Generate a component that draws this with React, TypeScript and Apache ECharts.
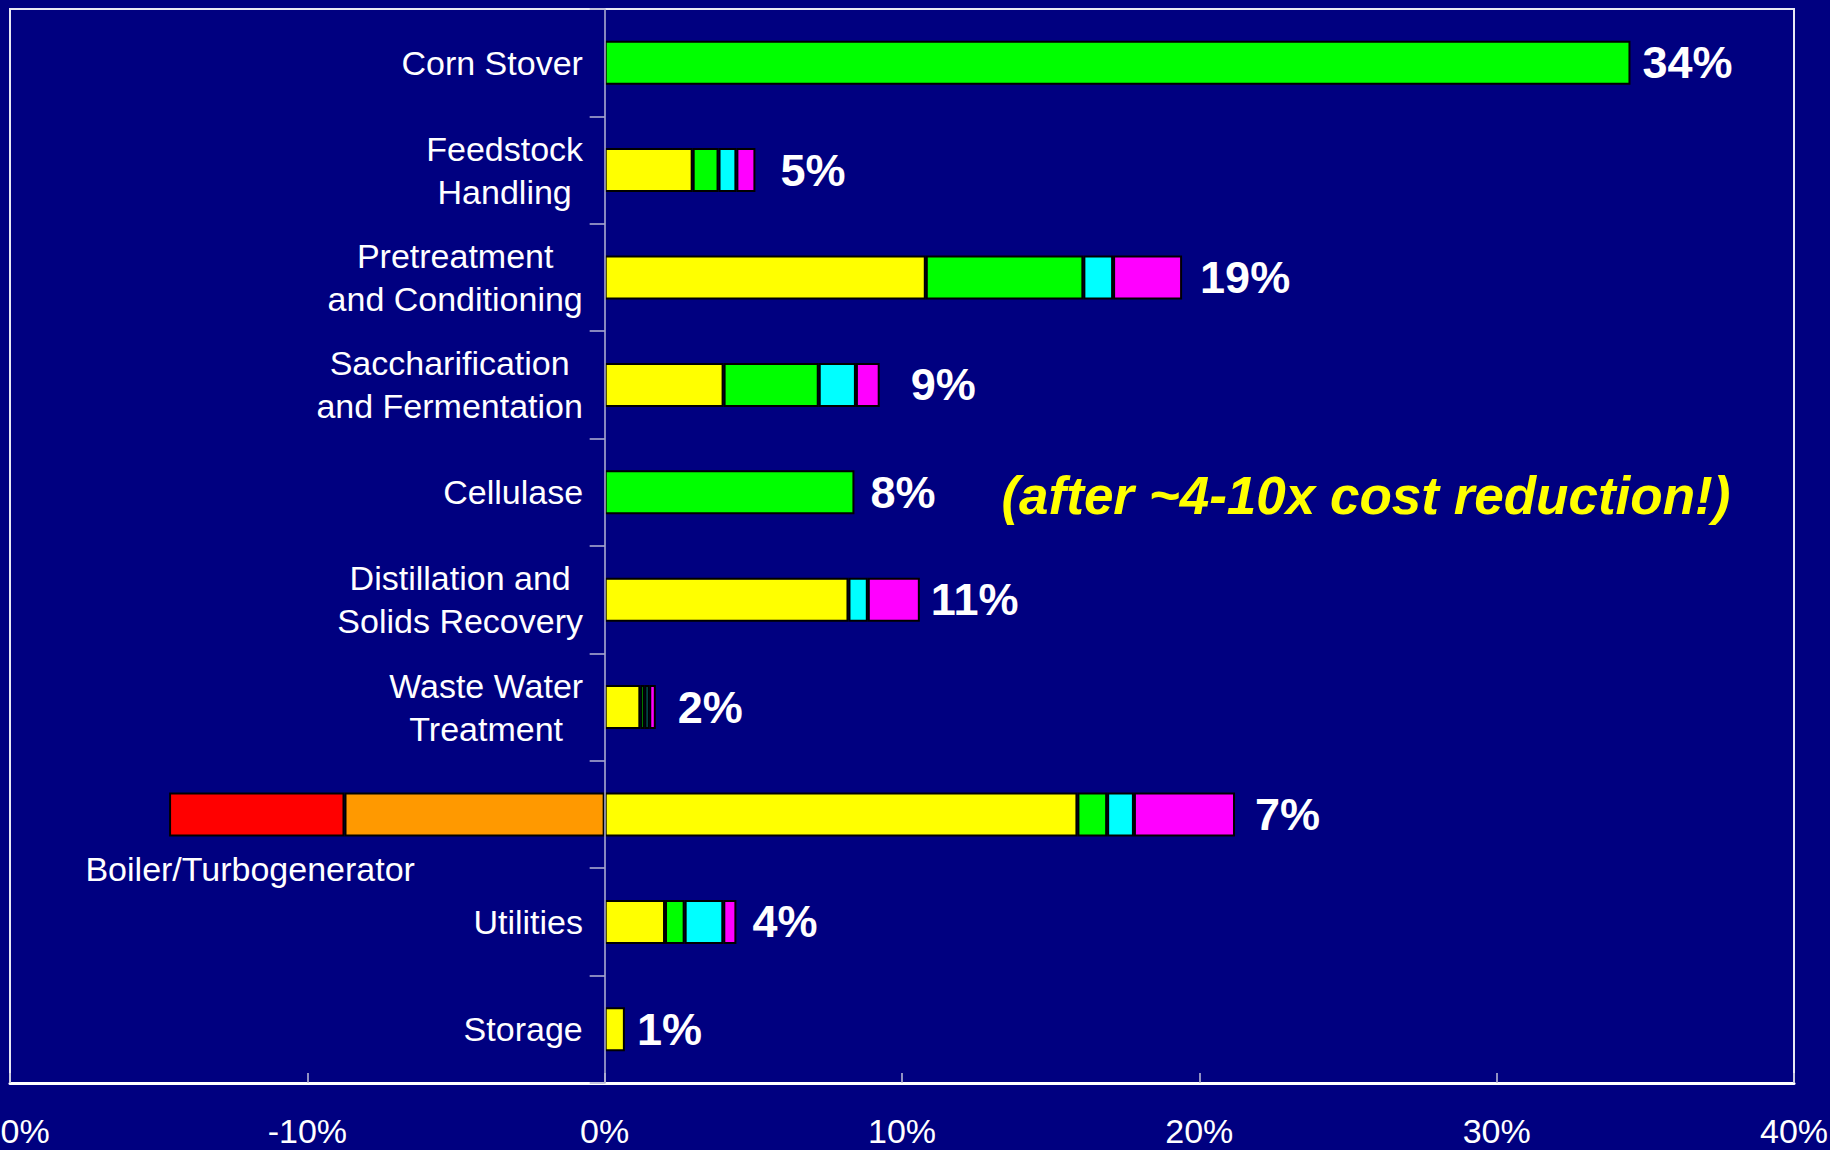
import React, { useEffect, useRef } from "react";
import * as echarts from "echarts";

const categories = [
  "Corn Stover",
  "Feedstock\nHandling",
  "Pretreatment\nand Conditioning",
  "Saccharification\nand Fermentation",
  "Cellulase",
  "Distillation and\nSolids Recovery",
  "Waste Water\nTreatment",
  "Boiler/Turbogenerator",
  "Utilities",
  "Storage",
];

const yellowValues = [null, 2.96, 10.8, 4.0, null, 8.2, 1.2, 15.9, 2.03, 0.68];
const greenValues = [34.5, 0.87, 5.3, 3.2, 8.4, null, 0.15, 1.0, 0.66, null];
const cyanValues = [null, 0.6, 1.0, 1.25, null, 0.65, 0.15, 0.9, 1.3, null];
const magentaValues = [null, 0.64, 2.32, 0.8, null, 1.75, 0.22, 3.4, 0.44, null];
const orangeValues = [null, null, null, null, null, null, null, -8.75, null, null];
const redValues = [null, null, null, null, null, null, null, -5.9, null, null];

const totalLabels = ["34%", "5%", "19%", "9%", "8%", "11%", "2%", "7%", "4%", "1%"];
const annotationText = "(after ~4-10x cost reduction!)";
const annotationIndex = 4;

const xMin = -20;
const xMax = 40;
const xInterval = 10;

// styling (not data)
const labelGaps = [12, 25, 18, 31, 16, 11, 22, 20, 16, 12];
const FONT = '"Liberation Sans", Arial, sans-serif';
const CAT_FONT_SIZE = 34;

export default function App() {
  const ref = useRef<HTMLDivElement>(null);

  useEffect(() => {
    const el = ref.current!;
    const chart = echarts.init(el, null, { renderer: "svg" });

    const canvas = document.createElement("canvas");
    const ctx = canvas.getContext("2d")!;
    ctx.font = `${CAT_FONT_SIZE}px "Liberation Sans"`;

    const catRich: Record<string, any> = {};
    categories.forEach((c, i) => {
      const lines = c.split("\n");
      const w = Math.max(...lines.map((l) => ctx.measureText(l).width));
      catRich["r" + i] = {
        width: Math.ceil(w) + 1,
        align: "center",
        fontSize: CAT_FONT_SIZE,
        fontFamily: FONT,
        color: "#ffffff",
        lineHeight: 43,
      };
    });
    const boilerIdx = categories.indexOf("Boiler/Turbogenerator");
    catRich["r" + boilerIdx] = { ...catRich["r" + boilerIdx], padding: [108, 168, 0, 0] };

    const toData = (arr: (number | null)[]) => arr.map((v) => (v === null ? "-" : v));

    const barSeries = (name: string, data: (number | null)[], color: string) => ({
      type: "bar",
      name,
      stack: "total",
      data: toData(data),
      barWidth: 44,
      itemStyle: { color, borderColor: "#000000", borderWidth: 2 },
      emphasis: { disabled: true },
      silent: true,
    });

    const positiveTotals = categories.map((_, i) =>
      [yellowValues, greenValues, cyanValues, magentaValues].reduce(
        (s, arr) => s + (arr[i] ?? 0),
        0
      )
    );

    const option: any = {
      animation: false,
      backgroundColor: "#000080",
      grid: {
        left: 10,
        right: 36,
        top: 9,
        bottom: 67,
        show: true,
        borderColor: "#e8e8f4",
        borderWidth: 2,
        backgroundColor: "transparent",
        containLabel: false,
        outerBoundsMode: "none",
      },
      xAxis: {
        type: "value",
        min: xMin,
        max: xMax,
        interval: xInterval,
        axisLine: { show: true, lineStyle: { color: "#ffffff", width: 3 } },
        axisTick: { show: true, inside: true, length: 10, lineStyle: { color: "#c0c0d8", width: 1.5 } },
        splitLine: { show: false },
        axisLabel: {
          color: "#ffffff",
          fontSize: 34,
          fontFamily: FONT,
          margin: 31,
          formatter: (v: number) => `${v}%`,
        },
      },
      yAxis: {
        type: "category",
        inverse: true,
        data: categories,
        z: 5,
        axisLine: { show: true, onZero: true, lineStyle: { color: "#b4b4d4", width: 1.5 } },
        axisTick: { show: true, length: 15, lineStyle: { color: "#b4b4d4", width: 1.5 } },
        splitLine: { show: false },
        axisLabel: { show: false },
      },
      series: [
        barSeries("Yellow", yellowValues, "#ffff00"),
        barSeries("Green", greenValues, "#00ff00"),
        barSeries("Cyan", cyanValues, "#00ffff"),
        barSeries("Magenta", magentaValues, "#ff00ff"),
        barSeries("Orange", orangeValues, "#ff9900"),
        barSeries("Red", redValues, "#ff0000"),
        {
          type: "scatter",
          name: "categoryLabels",
          symbolSize: 0,
          silent: true,
          z: 10,
          itemStyle: { opacity: 1 },
          data: categories.map((c, i) => ({
            value: [0, i],
            label: {
              show: true,
              position: "left",
              distance: 21,
              formatter: c
                .split("\n")
                .map((l) => `{r${i}|${l}}`)
                .join("\n"),
            },
          })),
          label: {
            show: true,
            color: "#ffffff",
            fontSize: CAT_FONT_SIZE,
            fontFamily: FONT,
            rich: catRich,
          },
        },
        {
          type: "scatter",
          name: "totals",
          symbolSize: 0,
          silent: true,
          z: 10,
          itemStyle: { opacity: 1 },
          data: positiveTotals.map((t, i) => ({
            value: [t, i],
            label: {
              show: true,
              position: "right",
              distance: labelGaps[i],
              formatter:
                i === annotationIndex
                  ? `{v|${totalLabels[i]}}{a|${annotationText}}`
                  : totalLabels[i],
            },
          })),
          label: {
            show: true,
            color: "#ffffff",
            fontSize: 45,
            fontWeight: "bold",
            fontFamily: FONT,
            rich: {
              v: {
                color: "#ffffff",
                fontSize: 45,
                fontWeight: "bold",
                fontFamily: FONT,
                verticalAlign: "middle",
              },
              a: {
                color: "#ffff00",
                fontSize: 53,
                fontWeight: "bold",
                fontStyle: "italic",
                fontFamily: FONT,
                verticalAlign: "middle",
                padding: [6, 0, 0, 66],
              },
            },
          },
        },
      ],
    };

    chart.setOption(option);
    return () => chart.dispose();
  }, []);

  return (
    <div
      ref={ref}
      style={{
        position: "fixed",
        left: 0,
        top: 0,
        width: 1830,
        height: 1150,
        background: "#000080",
      }}
    />
  );
}
